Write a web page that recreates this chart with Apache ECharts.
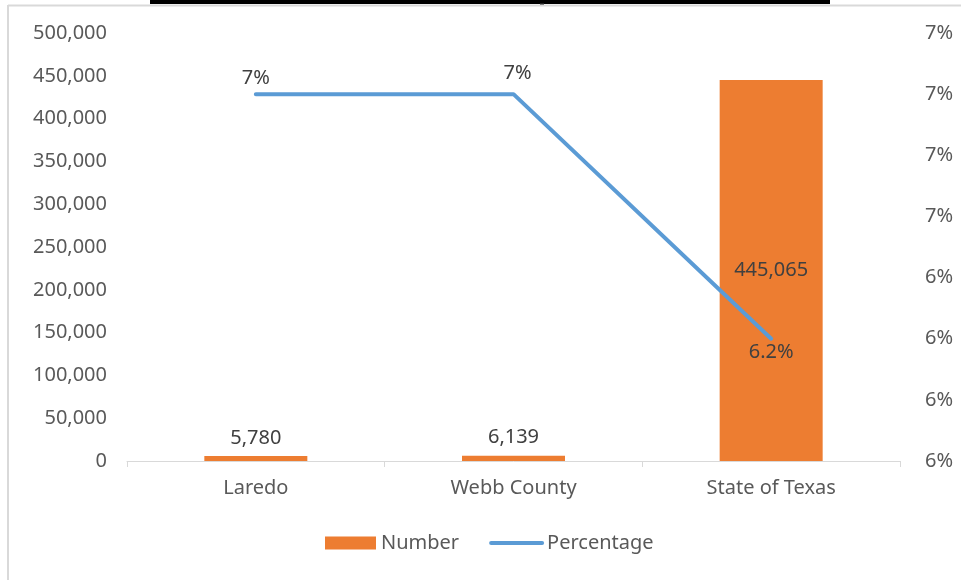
<!DOCTYPE html>
<html>
<head>
<meta charset="utf-8">
<script src="https://cdn.jsdelivr.net/npm/echarts@6/dist/echarts.min.js"></script>
<style>html,body{margin:0;padding:0;background:#fff;}#c{width:961px;height:580px;}</style>
</head>
<body>
<div id="c"></div>
<script>
const categories = ['Laredo', 'Webb County', 'State of Texas'];
const numberValues = [5780, 6139, 445065];
const percentValues = [6.6, 6.6, 6.2];
const percentLabels = ['7%', '7%', '6.2%'];
const rightTickLabels = ['6%', '6%', '6%', '6%', '7%', '7%', '7%', '7%'];

const FONT = '"Noto Sans", "Open Sans", sans-serif';
const FS = 20;
const chart = echarts.init(document.getElementById('c'), null, {renderer: 'canvas'});

const barData = numberValues.map((v, i) => ({
  value: v,
  label: { position: i === 2 ? 'inside' : 'top', distance: 8 }
}));
const lineData = percentValues.map((v, i) => ({
  value: v,
  label: { position: i === 2 ? 'bottom' : 'top', distance: i === 2 ? 3 : 5, formatter: percentLabels[i],
    offset: i === 1 ? [4, -5] : [0, 0] }
}));

chart.setOption({
  animation: false,
  backgroundColor: '#ffffff',
  textStyle: { fontFamily: FONT },
  graphic: [
    { type: 'rect', shape: { x: 150, y: 0, width: 680, height: 4 }, style: { fill: '#000' } },
    { type: 'rect', shape: { x: 540, y: 3, width: 4, height: 3 }, style: { fill: '#222' } },
    { type: 'line', shape: { x1: 8, y1: 5.5, x2: 961, y2: 5.5 }, style: { stroke: '#d9d9d9', lineWidth: 2 } },
    { type: 'line', shape: { x1: 8, y1: 5, x2: 8, y2: 580 }, style: { stroke: '#d9d9d9', lineWidth: 2 } }
  ],
  grid: { left: 127, right: 61, top: 33, bottom: 119, containLabel: false },
  legend: {
    bottom: 22,
    left: 320,
    itemGap: 30,
    itemWidth: 51,
    itemHeight: 13,
    textStyle: { fontFamily: FONT, fontSize: FS, color: '#595959' },
    data: [
      { name: 'Number', icon: 'rect' },
      { name: 'Percentage', itemStyle: { color: 'rgba(0,0,0,0)', borderWidth: 0 }, lineStyle: { width: 4, cap: 'round' } }
    ]
  },
  xAxis: {
    type: 'category',
    data: categories,
    axisLine: { lineStyle: { color: '#d9d9d9', width: 1 } },
    axisTick: { show: true, length: 6, lineStyle: { color: '#d9d9d9' } },
    axisLabel: { fontFamily: FONT, fontSize: FS, color: '#595959', margin: 17 }
  },
  yAxis: [
    {
      type: 'value', min: 0, max: 500000, interval: 50000,
      axisLine: { show: false }, axisTick: { show: false }, splitLine: { show: false },
      axisLabel: { fontFamily: FONT, fontSize: FS, color: '#595959', margin: 20,
        formatter: v => v.toLocaleString('en-US') }
    },
    {
      type: 'value', min: 6.0, max: 6.7, interval: 0.1, position: 'right',
      axisLine: { show: false }, axisTick: { show: false }, splitLine: { show: false },
      axisLabel: { fontFamily: FONT, fontSize: FS, color: '#595959', margin: 25,
        formatter: v => rightTickLabels[Math.round((v - 6.0) / 0.1)] || '' }
    }
  ],
  series: [
    {
      name: 'Number', type: 'bar', data: barData, yAxisIndex: 0,
      barWidth: 103,
      itemStyle: { color: '#ED7D31' },
      label: { show: true, fontFamily: FONT, fontSize: FS, color: '#404040',
        formatter: p => p.value.toLocaleString('en-US') }
    },
    {
      name: 'Percentage', type: 'line', data: lineData, yAxisIndex: 1,
      symbol: 'circle', symbolSize: 1,
      itemStyle: { color: '#5B9BD5' },
      lineStyle: { color: '#5B9BD5', width: 4, cap: 'round', join: 'round' },
      label: { show: true, fontFamily: FONT, fontSize: FS, color: '#404040' },
      z: 3
    }
  ]
});
</script>
</body>
</html>
